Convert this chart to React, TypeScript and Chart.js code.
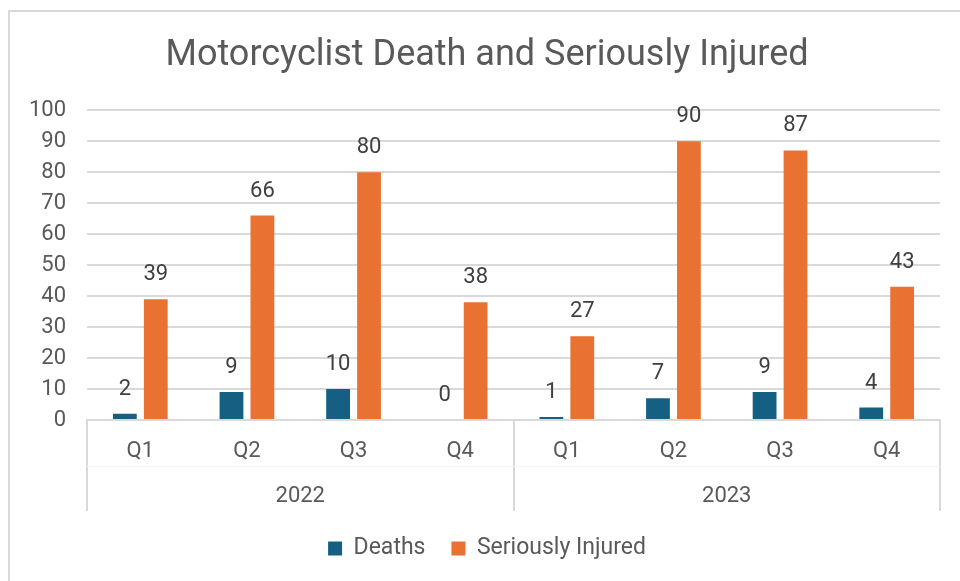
import React, { useEffect, useRef } from "react";
import { Chart, registerables } from "chart.js";

Chart.register(...registerables);

const quarters = ["Q1", "Q2", "Q3", "Q4", "Q1", "Q2", "Q3", "Q4"];
const years = ["2022", "2023"];
const quartersPerYear = 4;
const deaths = [2, 9, 10, 0, 1, 7, 9, 4];
const seriouslyInjured = [39, 66, 80, 38, 27, 90, 87, 43];
const yTicks = [0, 10, 20, 30, 40, 50, 60, 70, 80, 90, 100];

const FONT = "Roboto, 'Open Sans', sans-serif";
const TEXT = "#595959";
const GRID = "#d9d9d9";

const labelsPlugin = {
  id: "valueLabels",
  afterDatasetsDraw(chart: any) {
    const ctx = chart.ctx;
    ctx.save();
    ctx.fillStyle = "#404040";
    ctx.font = `22px ${FONT}`;
    ctx.textAlign = "center";
    ctx.textBaseline = "alphabetic";
    chart.data.datasets.forEach((ds: any, i: number) => {
      const meta = chart.getDatasetMeta(i);
      meta.data.forEach((bar: any, j: number) => {
        ctx.fillText(String(ds.data[j]), bar.x, bar.y - 19);
      });
    });
    ctx.restore();
  },
};

const groupAxisPlugin = {
  id: "groupAxis",
  afterDraw(chart: any) {
    const ctx = chart.ctx;
    const x = chart.scales.x;
    const top = chart.chartArea.bottom;
    const bottom = x.bottom;
    const step = x.getPixelForValue(1) - x.getPixelForValue(0);
    ctx.save();
    ctx.strokeStyle = GRID;
    ctx.lineWidth = 2;
    for (let g = 0; g <= years.length; g++) {
      const idx = g * quartersPerYear;
      const px = Math.round(x.getPixelForValue(idx) - step / 2);
      ctx.beginPath();
      ctx.moveTo(px, top);
      ctx.lineTo(px, bottom);
      ctx.stroke();
    }
    ctx.strokeStyle = "#f4f4f4";
    ctx.lineWidth = 1;
    ctx.beginPath();
    ctx.moveTo(x.left, top + 46.5);
    ctx.lineTo(x.right, top + 46.5);
    ctx.stroke();
    ctx.fillStyle = TEXT;
    ctx.font = `22px ${FONT}`;
    ctx.textAlign = "center";
    ctx.textBaseline = "middle";
    years.forEach((yr, g) => {
      const a = x.getPixelForValue(g * quartersPerYear);
      const b = x.getPixelForValue(g * quartersPerYear + quartersPerYear - 1);
      ctx.fillText(yr, (a + b) / 2, top + 76);
    });
    ctx.restore();
  },
};

export default function App() {
  const ref = useRef<HTMLCanvasElement>(null);
  useEffect(() => {
    document.body.style.margin = "0";
    const chart = new Chart(ref.current!, {
      type: "bar",
      data: {
        labels: quarters,
        datasets: [
          {
            label: "Deaths",
            data: deaths,
            backgroundColor: "#156082",
            categoryPercentage: 0.58,
            barPercentage: 0.77,
          },
          {
            label: "Seriously Injured",
            data: seriouslyInjured,
            backgroundColor: "#E97132",
            categoryPercentage: 0.58,
            barPercentage: 0.77,
          },
        ],
      },
      options: {
        responsive: false,
        animation: false,
        layout: { padding: { left: 34, right: 20, top: 0, bottom: 11 } },
        plugins: {
          title: {
            display: true,
            text: "Motorcyclist Death and Seriously Injured",
            color: TEXT,
            font: { family: FONT, size: 36, weight: "normal" },
            padding: { top: 34, bottom: 33 },
          },
          legend: {
            position: "bottom",
            labels: {
              color: TEXT,
              font: { family: FONT, size: 23 },
              boxWidth: 14,
              boxHeight: 14,
              padding: 26,
            },
          },
          tooltip: { enabled: false },
        },
        scales: {
          x: {
            grid: { display: false, drawTicks: false },
            border: { color: GRID, width: 2 },
            ticks: { color: TEXT, font: { family: FONT, size: 22 }, padding: 18 },
            afterFit: (s: any) => {
              s.height = 91;
            },
          },
          y: {
            min: 0,
            max: 100,
            afterBuildTicks: (s: any) => {
              s.ticks = yTicks.map((v) => ({ value: v }));
            },
            grid: { color: GRID, lineWidth: 2, drawTicks: false },
            border: { display: false },
            ticks: { color: TEXT, font: { family: FONT, size: 22 }, padding: 21 },
            afterFit: (s: any) => {
              s.width = 53;
              s._computeLabelArea = () => undefined;
            },
          },
        },
      },
      plugins: [labelsPlugin, groupAxisPlugin],
    });
    return () => chart.destroy();
  }, []);
  return (
    <div style={{ position: "relative", width: 960, height: 581 }}>
      <div
        style={{
          position: "absolute",
          left: 8,
          top: 10,
          right: 0,
          bottom: 0,
          borderTop: "2px solid #d9d9d9",
          borderLeft: "2px solid #d9d9d9",
          pointerEvents: "none",
        }}
      />
      <canvas ref={ref} width={960} height={581} style={{ display: "block" }} />
    </div>
  );
}
